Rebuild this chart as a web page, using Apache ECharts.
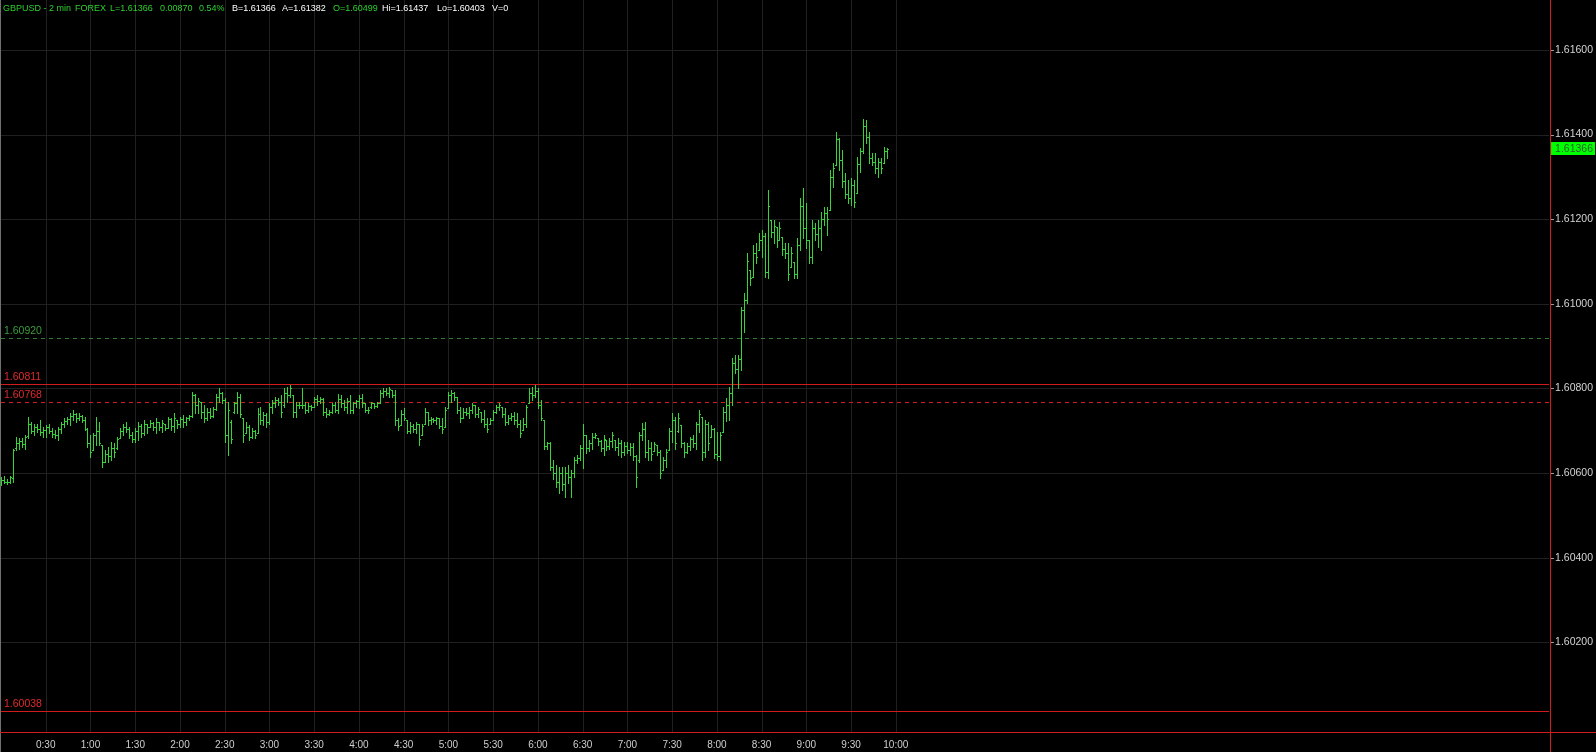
<!DOCTYPE html>
<html><head><meta charset="utf-8">
<script src="https://cdn.jsdelivr.net/npm/echarts@6/dist/echarts.min.js"></script>
<style>html,body{margin:0;padding:0;background:#000;}#c{width:1596px;height:752px;}</style>
</head><body><div id="c"></div>
<script>
// 2-minute GBPUSD bars starting at 0:00
const barStepMinutes = 2;
const opens = [1.60578,1.60584,1.60580,1.60578,1.60588,1.60660,1.60670,1.60675,1.60668,1.60688,
1.60715,1.60700,1.60710,1.60705,1.60696,1.60702,1.60708,1.60700,1.60692,1.60690,
1.60705,1.60716,1.60722,1.60728,1.60735,1.60740,1.60730,1.60736,1.60725,1.60705,
1.60670,1.60655,1.60690,1.60700,1.60666,1.60627,1.60645,1.60640,1.60660,1.60660,
1.60682,1.60700,1.60710,1.60705,1.60690,1.60680,1.60700,1.60712,1.60695,1.60715,
1.60710,1.60718,1.60708,1.60720,1.60710,1.60717,1.60706,1.60728,1.60712,1.60725,
1.60715,1.60728,1.60720,1.60730,1.60735,1.60785,1.60760,1.60769,1.60745,1.60730,
1.60745,1.60735,1.60752,1.60780,1.60790,1.60772,1.60690,1.60720,1.60745,1.60765,
1.60780,1.60729,1.60694,1.60710,1.60685,1.60700,1.60694,1.60740,1.60725,1.60738,
1.60720,1.60755,1.60765,1.60772,1.60768,1.60760,1.60790,1.60785,1.60784,1.60745,
1.60760,1.60762,1.60760,1.60750,1.60758,1.60757,1.60775,1.60770,1.60775,1.60745,
1.60740,1.60745,1.60760,1.60750,1.60775,1.60765,1.60755,1.60770,1.60750,1.60765,
1.60770,1.60778,1.60765,1.60750,1.60755,1.60765,1.60758,1.60766,1.60790,1.60795,
1.60790,1.60796,1.60785,1.60725,1.60714,1.60740,1.60725,1.60700,1.60712,1.60705,
1.60715,1.60690,1.60717,1.60745,1.60725,1.60728,1.60725,1.60729,1.60712,1.60710,
1.60753,1.60785,1.60790,1.60780,1.60750,1.60730,1.60745,1.60742,1.60750,1.60760,
1.60740,1.60745,1.60728,1.60715,1.60717,1.60725,1.60745,1.60755,1.60757,1.60740,
1.60720,1.60730,1.60735,1.60725,1.60715,1.60702,1.60715,1.60765,1.60790,1.60785,
1.60795,1.60760,1.60725,1.60665,1.60670,1.60615,1.60600,1.60580,1.60600,1.60575,
1.60600,1.60590,1.60600,1.60630,1.60635,1.60660,1.60690,1.60660,1.60670,1.60685,
1.60682,1.60675,1.60660,1.60678,1.60665,1.60675,1.60678,1.60662,1.60670,1.60650,
1.60665,1.60655,1.60662,1.60640,1.60630,1.60690,1.60705,1.60650,1.60660,1.60651,
1.60666,1.60650,1.60607,1.60630,1.60655,1.60700,1.60725,1.60700,1.60714,1.60670,
1.60650,1.60665,1.60680,1.60670,1.60715,1.60733,1.60650,1.60715,1.60686,1.60705,
1.60645,1.60640,1.60698,1.60745,1.60760,1.60790,1.60860,1.60845,1.60870,1.60985,
1.61010,1.61080,1.61063,1.61120,1.61127,1.61150,1.61160,1.61075,1.61198,1.61170,
1.61182,1.61151,1.61158,1.61130,1.61120,1.61087,1.61099,1.61070,1.61140,1.61230,
1.61180,1.61151,1.61110,1.61180,1.61165,1.61180,1.61200,1.61215,1.61222,1.61300,
1.61328,1.61390,1.61340,1.61290,1.61260,1.61250,1.61280,1.61262,1.61330,1.61360,
1.61420,1.61395,1.61345,1.61335,1.61320,1.61335,1.61333,1.61360];
const highs = [1.60590,1.60593,1.60587,1.60593,1.60658,1.60686,1.60682,1.60682,1.60690,1.60733,
1.60721,1.60717,1.60717,1.60725,1.60710,1.60714,1.60717,1.60706,1.60702,1.60710,
1.60721,1.60729,1.60733,1.60741,1.60749,1.60743,1.60741,1.60737,1.60733,1.60706,
1.60690,1.60694,1.60733,1.60721,1.60666,1.60654,1.60662,1.60674,1.60670,1.60686,
1.60706,1.60717,1.60721,1.60710,1.60698,1.60706,1.60721,1.60717,1.60725,1.60717,
1.60725,1.60721,1.60729,1.60721,1.60725,1.60717,1.60733,1.60729,1.60741,1.60725,
1.60733,1.60737,1.60733,1.60737,1.60792,1.60788,1.60777,1.60769,1.60761,1.60753,
1.60753,1.60757,1.60788,1.60800,1.60792,1.60777,1.60768,1.60725,1.60769,1.60792,
1.60788,1.60729,1.60721,1.60714,1.60706,1.60702,1.60753,1.60757,1.60745,1.60741,
1.60765,1.60773,1.60780,1.60777,1.60784,1.60800,1.60804,1.60808,1.60784,1.60769,
1.60769,1.60800,1.60769,1.60765,1.60761,1.60780,1.60784,1.60780,1.60777,1.60753,
1.60749,1.60765,1.60769,1.60788,1.60784,1.60773,1.60777,1.60784,1.60769,1.60773,
1.60784,1.60788,1.60765,1.60757,1.60769,1.60765,1.60769,1.60796,1.60800,1.60800,
1.60804,1.60796,1.60796,1.60729,1.60749,1.60753,1.60725,1.60721,1.60717,1.60721,
1.60717,1.60717,1.60753,1.60745,1.60733,1.60729,1.60733,1.60729,1.60729,1.60757,
1.60792,1.60796,1.60792,1.60780,1.60757,1.60753,1.60753,1.60757,1.60765,1.60761,
1.60757,1.60745,1.60749,1.60729,1.60729,1.60749,1.60761,1.60765,1.60757,1.60753,
1.60737,1.60741,1.60745,1.60741,1.60725,1.60729,1.60761,1.60800,1.60804,1.60808,
1.60800,1.60773,1.60725,1.60674,1.60674,1.60631,1.60619,1.60615,1.60615,1.60615,
1.60619,1.60607,1.60639,1.60643,1.60666,1.60717,1.60690,1.60678,1.60694,1.60694,
1.60682,1.60678,1.60690,1.60678,1.60682,1.60698,1.60678,1.60682,1.60678,1.60674,
1.60674,1.60670,1.60670,1.60643,1.60698,1.60718,1.60721,1.60678,1.60674,1.60674,
1.60666,1.60655,1.60639,1.60658,1.60706,1.60741,1.60733,1.60741,1.60714,1.60674,
1.60670,1.60686,1.60690,1.60721,1.60749,1.60733,1.60725,1.60721,1.60714,1.60706,
1.60698,1.60698,1.60757,1.60777,1.60803,1.60872,1.60879,1.60879,1.60992,1.61026,
1.61120,1.61080,1.61139,1.61144,1.61167,1.61174,1.61167,1.61269,1.61198,1.61198,
1.61182,1.61193,1.61158,1.61144,1.61144,1.61134,1.61099,1.61155,1.61250,1.61274,
1.61238,1.61151,1.61198,1.61191,1.61198,1.61217,1.61229,1.61229,1.61316,1.61333,
1.61406,1.61392,1.61363,1.61309,1.61293,1.61297,1.61293,1.61347,1.61368,1.61437,
1.61434,1.61406,1.61356,1.61356,1.61345,1.61345,1.61371,1.61368];
const lows = [1.60572,1.60576,1.60573,1.60576,1.60580,1.60654,1.60658,1.60662,1.60658,1.60682,
1.60694,1.60690,1.60698,1.60690,1.60686,1.60686,1.60694,1.60686,1.60682,1.60678,
1.60694,1.60710,1.60717,1.60714,1.60725,1.60721,1.60725,1.60721,1.60702,1.60662,
1.60637,1.60654,1.60666,1.60666,1.60615,1.60627,1.60627,1.60631,1.60639,1.60658,
1.60682,1.60690,1.60698,1.60682,1.60674,1.60674,1.60678,1.60686,1.60690,1.60694,
1.60710,1.60702,1.60694,1.60702,1.60698,1.60702,1.60706,1.60702,1.60698,1.60706,
1.60710,1.60710,1.60714,1.60725,1.60733,1.60741,1.60741,1.60729,1.60721,1.60725,
1.60729,1.60733,1.60749,1.60769,1.60765,1.60674,1.60643,1.60670,1.60741,1.60741,
1.60733,1.60674,1.60694,1.60678,1.60682,1.60682,1.60694,1.60717,1.60714,1.60710,
1.60717,1.60741,1.60757,1.60761,1.60733,1.60757,1.60769,1.60780,1.60733,1.60733,
1.60753,1.60753,1.60741,1.60745,1.60749,1.60757,1.60761,1.60765,1.60737,1.60733,
1.60737,1.60741,1.60745,1.60741,1.60757,1.60749,1.60741,1.60741,1.60741,1.60757,
1.60753,1.60757,1.60745,1.60741,1.60753,1.60753,1.60757,1.60765,1.60780,1.60784,
1.60780,1.60780,1.60714,1.60702,1.60714,1.60725,1.60694,1.60694,1.60698,1.60694,
1.60666,1.60690,1.60717,1.60714,1.60717,1.60721,1.60717,1.60706,1.60694,1.60710,
1.60753,1.60769,1.60773,1.60741,1.60721,1.60729,1.60737,1.60729,1.60741,1.60733,
1.60733,1.60721,1.60710,1.60698,1.60717,1.60725,1.60741,1.60749,1.60733,1.60714,
1.60717,1.60725,1.60717,1.60710,1.60686,1.60702,1.60710,1.60765,1.60773,1.60780,
1.60753,1.60725,1.60658,1.60658,1.60607,1.60587,1.60568,1.60552,1.60560,1.60544,
1.60576,1.60544,1.60591,1.60623,1.60631,1.60611,1.60647,1.60651,1.60658,1.60682,
1.60666,1.60651,1.60643,1.60655,1.60658,1.60662,1.60655,1.60643,1.60639,1.60643,
1.60647,1.60643,1.60631,1.60568,1.60627,1.60678,1.60639,1.60631,1.60631,1.60651,
1.60643,1.60588,1.60607,1.60615,1.60655,1.60674,1.60658,1.60698,1.60662,1.60639,
1.60647,1.60655,1.60662,1.60658,1.60698,1.60631,1.60639,1.60655,1.60686,1.60635,
1.60631,1.60631,1.60698,1.60722,1.60725,1.60761,1.60836,1.60801,1.60844,1.60933,
1.61002,1.61044,1.61063,1.61096,1.61127,1.61111,1.61063,1.61061,1.61158,1.61144,
1.61134,1.61151,1.61115,1.61108,1.61056,1.61087,1.61061,1.61061,1.61127,1.61155,
1.61132,1.61096,1.61096,1.61151,1.61134,1.61127,1.61186,1.61163,1.61222,1.61276,
1.61328,1.61316,1.61276,1.61250,1.61238,1.61233,1.61229,1.61262,1.61311,1.61356,
1.61380,1.61333,1.61328,1.61309,1.61300,1.61309,1.61333,1.61345];
const closes = [1.60584,1.60580,1.60578,1.60590,1.60655,1.60670,1.60675,1.60668,1.60685,1.60715,
1.60700,1.60710,1.60705,1.60696,1.60702,1.60708,1.60700,1.60692,1.60690,1.60705,
1.60716,1.60722,1.60728,1.60735,1.60740,1.60730,1.60736,1.60725,1.60705,1.60670,
1.60650,1.60690,1.60700,1.60670,1.60625,1.60645,1.60640,1.60660,1.60650,1.60680,
1.60700,1.60710,1.60705,1.60690,1.60680,1.60700,1.60712,1.60695,1.60715,1.60710,
1.60718,1.60708,1.60720,1.60710,1.60718,1.60706,1.60728,1.60712,1.60730,1.60715,
1.60728,1.60720,1.60730,1.60735,1.60785,1.60760,1.60770,1.60745,1.60730,1.60745,
1.60735,1.60752,1.60780,1.60790,1.60772,1.60690,1.60750,1.60680,1.60765,1.60780,
1.60740,1.60690,1.60710,1.60685,1.60700,1.60690,1.60740,1.60725,1.60738,1.60720,
1.60755,1.60765,1.60772,1.60768,1.60745,1.60790,1.60785,1.60800,1.60745,1.60760,
1.60762,1.60760,1.60750,1.60758,1.60755,1.60775,1.60770,1.60775,1.60745,1.60740,
1.60745,1.60760,1.60750,1.60775,1.60765,1.60755,1.60770,1.60750,1.60765,1.60770,
1.60778,1.60765,1.60750,1.60748,1.60765,1.60758,1.60766,1.60790,1.60795,1.60790,
1.60798,1.60785,1.60725,1.60712,1.60740,1.60730,1.60700,1.60712,1.60705,1.60715,
1.60680,1.60712,1.60745,1.60725,1.60728,1.60725,1.60730,1.60712,1.60705,1.60750,
1.60785,1.60790,1.60780,1.60750,1.60730,1.60745,1.60742,1.60750,1.60760,1.60740,
1.60752,1.60728,1.60715,1.60705,1.60725,1.60745,1.60755,1.60760,1.60740,1.60720,
1.60730,1.60735,1.60725,1.60715,1.60695,1.60715,1.60755,1.60790,1.60785,1.60795,
1.60760,1.60730,1.60665,1.60670,1.60615,1.60600,1.60580,1.60600,1.60575,1.60600,
1.60590,1.60600,1.60630,1.60635,1.60660,1.60690,1.60660,1.60670,1.60685,1.60690,
1.60675,1.60660,1.60680,1.60665,1.60675,1.60690,1.60662,1.60670,1.60650,1.60665,
1.60655,1.60662,1.60640,1.60590,1.60690,1.60705,1.60650,1.60660,1.60645,1.60668,
1.60650,1.60600,1.60630,1.60650,1.60700,1.60725,1.60670,1.60730,1.60670,1.60650,
1.60665,1.60680,1.60670,1.60715,1.60740,1.60650,1.60715,1.60670,1.60705,1.60645,
1.60640,1.60690,1.60745,1.60760,1.60790,1.60860,1.60845,1.60870,1.60985,1.61010,
1.61100,1.61060,1.61120,1.61110,1.61150,1.61160,1.61075,1.61230,1.61170,1.61185,
1.61150,1.61180,1.61130,1.61120,1.61070,1.61120,1.61070,1.61140,1.61230,1.61180,
1.61150,1.61110,1.61180,1.61165,1.61180,1.61200,1.61215,1.61200,1.61300,1.61320,
1.61390,1.61340,1.61290,1.61260,1.61250,1.61280,1.61240,1.61330,1.61360,1.61420,
1.61395,1.61345,1.61335,1.61320,1.61335,1.61320,1.61360,1.61366];

const yTickValues = [1.602, 1.604, 1.606, 1.608, 1.610, 1.612, 1.614, 1.616];
const yTickLabels = ['1.60200','1.60400','1.60600','1.60800','1.61000','1.61200','1.61400','1.61600'];
const xTickMinutes = [30,60,90,120,150,180,210,240,270,300,330,360,390,420,450,480,510,540,570,600];
const xTickLabels = ['0:30','1:00','1:30','2:00','2:30','3:00','3:30','4:00','4:30','5:00','5:30','6:00','6:30','7:00','7:30','8:00','8:30','9:00','9:30','10:00'];
const levelValues = [1.60920, 1.60811, 1.60768, 1.60038];
const levelLabels = ['1.60920','1.60811','1.60768','1.60038'];
const levelStrokes = ['#2f7f2f', '#d01c1c', '#d01c1c', '#d01c1c'];
const levelTextColors = ['#3c9c3c', '#e02a2a', '#e02a2a', '#e02a2a'];
const levelDashed = [true, false, true, false];
const lastPrice = 1.61366;
const lastPriceLabel = '1.61366';
const headerParts = [
  ['GBPUSD - 2 min', 'g'], ['FOREX', 'g'], ['L=1.61366', 'g'], ['0.00870', 'g'], ['0.54%', 'g'],
  ['B=1.61366', 'w'], ['A=1.61382', 'w'], ['O=1.60499', 'g'], ['Hi=1.61437', 'w'], ['Lo=1.60403', 'w'], ['V=0', 'w']
];
const headerX = [3, 75, 110, 160, 199, 232, 282, 333, 382, 437, 492];

const BAR = '#36d436';
const RED = '#d01c1c';
const GRID = '#202020';
const FONT = '"Liberation Sans", Arial, sans-serif';

const bars = opens.map((o, i) => [i * barStepMinutes, o, highs[i], lows[i], closes[i]]);

const chart = echarts.init(document.getElementById('c'), null, { renderer: 'canvas' });

chart.setOption({
  backgroundColor: '#000',
  animation: false,
  grid: { left: 1, right: 46, top: 0, bottom: 20, containLabel: false },
  xAxis: {
    type: 'value', min: 0, max: 1038,
    axisLine: { show: false },
    axisTick: { show: false },
    splitLine: { show: false },
    axisLabel: {
      customValues: xTickMinutes,
      formatter: v => { const k = xTickMinutes.indexOf(Math.round(v)); return k >= 0 ? xTickLabels[k] : ''; },
      color: '#cfcfcf', fontSize: 10, fontFamily: FONT, margin: 8
    }
  },
  yAxis: {
    type: 'value', position: 'right', min: 1.59988, max: 1.61718,
    axisLine: { show: false },
    splitLine: { show: false },
    axisTick: { show: false },
    axisLabel: {
      customValues: yTickValues,
      formatter: v => { const k = yTickValues.findIndex(t => Math.abs(t - v) < 1e-7); return k >= 0 ? yTickLabels[k] : ''; },
      color: '#d4d4d4', fontSize: 10.5, fontFamily: FONT, margin: 6
    }
  },
  graphic: [
    { type: 'line', silent: true, z: 100, shape: { x1: 0.5, y1: 0, x2: 0.5, y2: 752 }, style: { stroke: '#707070', lineWidth: 1 } },
    { type: 'line', silent: true, z: 100, shape: { x1: 1550.5, y1: 0, x2: 1550.5, y2: 752 }, style: { stroke: RED, lineWidth: 1 } },
    { type: 'line', silent: true, z: 100, shape: { x1: 0, y1: 732.5, x2: 1596, y2: 732.5 }, style: { stroke: RED, lineWidth: 1 } }
  ].concat(headerParts.map((p, i) => ({
    type: 'text', silent: true, z: 100, x: headerX[i], y: 9,
    style: { text: p[0], fill: p[1] === 'g' ? '#2fd02f' : '#ffffff', font: '9px ' + FONT, verticalAlign: 'middle', align: 'left' }
  }))),
  series: [
    { // horizontal grid lines + price-axis tick marks
      type: 'custom', z: 1, silent: true, clip: false,
      data: yTickValues.map(v => [0, v]),
      encode: { x: 0, y: 1 },
      renderItem: (params, api) => {
        const cs = params.coordSys;
        const y = Math.round(api.coord([0, api.value(1)])[1]) + 0.5;
        const xr = cs.x + cs.width;
        return { type: 'group', children: [
          { type: 'line', shape: { x1: cs.x, y1: y, x2: xr, y2: y }, style: { stroke: GRID, lineWidth: 1 } },
          { type: 'line', shape: { x1: xr + 1, y1: y, x2: xr + 5, y2: y }, style: { stroke: '#9a9a9a', lineWidth: 1 } }
        ]};
      }
    },
    { // vertical grid lines
      type: 'custom', z: 1, silent: true, clip: true,
      data: xTickMinutes.map(m => [m, 1.61]),
      encode: { x: 0, y: 1 },
      renderItem: (params, api) => {
        const cs = params.coordSys;
        const x = Math.round(api.coord([api.value(0), 1.61])[0]) + 0.5;
        return { type: 'line', shape: { x1: x, y1: cs.y, x2: x, y2: cs.y + cs.height }, style: { stroke: GRID, lineWidth: 1 } };
      }
    },
    { // price level lines with labels
      type: 'custom', z: 2, silent: true, clip: false,
      data: levelValues.map(v => [0, v]),
      encode: { x: 0, y: 1 },
      renderItem: (params, api) => {
        const cs = params.coordSys;
        const k = params.dataIndex;
        const y = Math.round(api.coord([0, api.value(1)])[1]) + 0.5;
        return { type: 'group', children: [
          { type: 'line', shape: { x1: cs.x, y1: y, x2: cs.x + cs.width, y2: y },
            style: { stroke: levelStrokes[k], lineWidth: 1, lineDash: levelDashed[k] ? [4, 4] : null } },
          { type: 'text', x: cs.x + 3, y: y - 2,
            style: { text: levelLabels[k], fill: levelTextColors[k], font: '10.5px ' + FONT, verticalAlign: 'bottom', align: 'left' } }
        ]};
      }
    },
    { // last price tag on the price axis
      type: 'custom', z: 4, silent: true, clip: false,
      data: [[0, lastPrice]],
      encode: { x: 0, y: 1 },
      renderItem: (params, api) => {
        const cs = params.coordSys;
        const y = api.coord([0, api.value(1)])[1];
        const x0 = cs.x + cs.width + 2;
        return { type: 'group', children: [
          { type: 'rect', shape: { x: x0, y: Math.round(y - 6.5), width: 44, height: 13 }, style: { fill: '#00ff00' } },
          { type: 'text', x: x0 + 4, y: Math.round(y) + 0.5,
            style: { text: lastPriceLabel, fill: '#2e5e2e', font: '10.5px ' + FONT, verticalAlign: 'middle', align: 'left' } }
        ]};
      }
    },
    { // OHLC bars
      type: 'custom', z: 3, silent: true, clip: true,
      data: bars,
      encode: { x: 0, y: [1, 2, 3, 4] },
      renderItem: (params, api) => {
        const t = api.value(0);
        const pH = api.coord([t, api.value(2)]);
        const pL = api.coord([t, api.value(3)]);
        const pO = api.coord([t, api.value(1)]);
        const pC = api.coord([t, api.value(4)]);
        const x = Math.round(pH[0]) + 0.5;
        const yo = Math.round(pO[1]) + 0.5;
        const yc = Math.round(pC[1]) + 0.5;
        const st = { stroke: BAR, lineWidth: 1 };
        return { type: 'group', children: [
          { type: 'line', shape: { x1: x, y1: Math.round(pH[1]), x2: x, y2: Math.round(pL[1]) + 1 }, style: st },
          { type: 'line', shape: { x1: x - 1.5, y1: yo, x2: x, y2: yo }, style: st },
          { type: 'line', shape: { x1: x, y1: yc, x2: x + 1.5, y2: yc }, style: st }
        ]};
      }
    }
  ]
});
</script></body></html>
